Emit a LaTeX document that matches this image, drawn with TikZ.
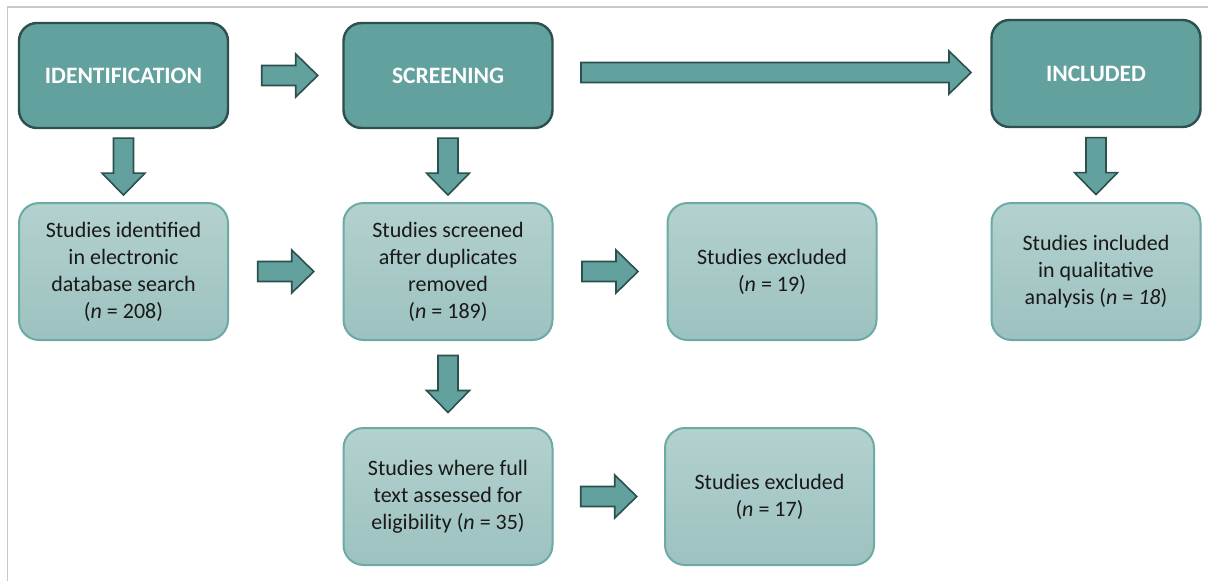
\documentclass[tikz,border=0pt]{standalone}
\usepackage{fontspec}
\setmainfont{Carlito}
\usetikzlibrary{calc}
\definecolor{headfill}{RGB}{98,161,157}
\definecolor{headdraw}{RGB}{44,80,77}
\definecolor{lighttop}{RGB}{179,209,207}
\definecolor{lightbot}{RGB}{156,194,191}
\definecolor{lightdraw}{RGB}{108,170,165}
\definecolor{framegray}{RGB}{200,200,200}
\definecolor{txt}{RGB}{25,25,25}
\tikzset{
  headbox/.style={draw=headdraw, line width=2.4pt, fill=headfill, rounded corners=18pt,
    minimum width=209pt, minimum height=105pt, inner sep=0pt,
    text=white, font=\fontsize{23.5}{26}\selectfont\bfseries},
  lightbox/.style={draw=lightdraw, line width=2pt, top color=lighttop, bottom color=lightbot,
    rounded corners=20pt, minimum width=209pt, minimum height=137pt, inner sep=0pt,
    text=txt, align=center, font=\fontsize{22}{27}\selectfont},
  arrowsty/.style={draw=headdraw, line width=1.6pt, fill=headfill, line join=miter},
  pics/barrow/.style={code={
    \draw[arrowsty] ({-#1/2},-10) -- ({#1/2-22},-10) -- ({#1/2-22},-21.5) -- ({#1/2},0)
      -- ({#1/2-22},21.5) -- ({#1/2-22},10) -- ({-#1/2},10) -- cycle;}}
}
\begin{document}
\begin{tikzpicture}[x=1pt,y=-1pt]
\useasboundingbox (0,0) rectangle (1208,581);
\fill[white] (0,0) rectangle (1208,581);
\draw[framegray, line width=1.3pt] (7.5,581) -- (7.5,7) -- (1208,7);

% header boxes
\node[headbox] (idh) at (123.5,75.5) {IDENTIFICATION};
\node[headbox] (scrh) at (448,75.5) {SCREENING};
\node[headbox, minimum height=107pt] (inch) at (1096,73.5) {INCLUDED};

% light boxes
\node[lightbox] (idb) at (123.5,271.5) {Studies identified\\in electronic\\database search\\(\textit{n} = 208)};
\node[lightbox] (scrb) at (448,271.5) {Studies screened\\after duplicates\\removed\\(\textit{n} = 189)};
\node[lightbox] (exa) at (772,271.5) {Studies excluded\\(\textit{n} = 19)};
\node[lightbox] (incb) at (1096,271.5) {Studies included\\in qualitative\\analysis (\textit{n} = \textit{18})};
\node[lightbox] (full) at (448,496.5) {Studies where full\\text assessed for\\eligibility (\textit{n} = 35)};
\node[lightbox] (exb) at (769.5,496.5) {Studies excluded\\(\textit{n} = 17)};

% block arrows
\pic at ($(idh.east)!0.5!(scrh.west)+(4,0)$) {barrow=56};
\pic at ($(scrh.east)!0.5!(inch.west)+(4,-2)$) {barrow=390};
\pic at ($(idb.east)!0.5!(scrb.west)$) {barrow=56};
\pic at ($(scrb.east)!0.5!(exa.west)$) {barrow=56};
\pic at ($(full.east)!0.5!(exb.west)$) {barrow=56};
\pic[rotate=-90] at ($(idh.south)!0.5!(idb.north)+(0,1)$) {barrow=57};
\pic[rotate=-90] at ($(scrh.south)!0.5!(scrb.north)+(0,1)$) {barrow=57};
\pic[rotate=-90] at ($(inch.south)!0.5!(incb.north)+(0,1)$) {barrow=57};
\pic[rotate=-90] at ($(scrb.south)!0.5!(full.north)$) {barrow=57};
\end{tikzpicture}
\end{document}
